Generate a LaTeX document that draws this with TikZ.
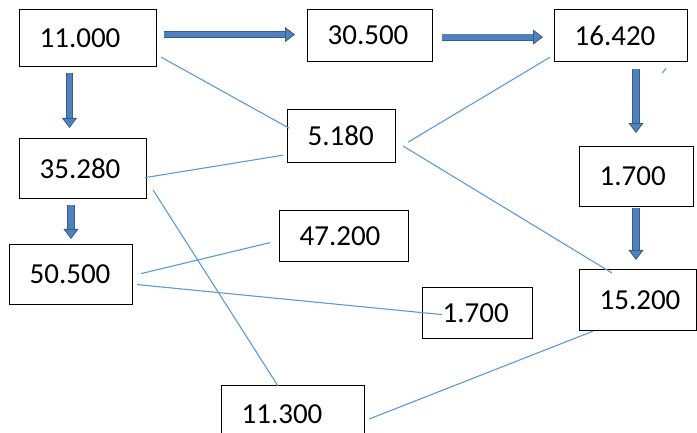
\documentclass[tikz,border=0pt]{standalone}
\usepackage{fontspec}
\setmainfont{Carlito}
\usetikzlibrary{arrows.meta,calc}
\definecolor{flowfill}{RGB}{79,129,189}
\definecolor{flowedge}{RGB}{56,93,138}
\definecolor{linkblue}{RGB}{91,155,213}
\tikzset{
  valbox/.style={draw=black, line width=1.2pt, fill=white, anchor=north west,
    inner xsep=20pt, inner ysep=0pt, align=left, font=\fontsize{29}{34}\selectfont},
  flow/.style={draw=flowedge, line width=0.8pt, double=flowfill, double distance=5.5pt,
    -{Triangle[length=10pt,width=15pt,fill=flowfill]}},
  link/.style={draw=linkblue, line width=1.1pt}
}
\begin{document}
\begin{tikzpicture}[x=1pt,y=-1pt]
  \useasboundingbox (0,0) rectangle (697,433);
  \clip (0,0) rectangle (697,433);
  % value boxes: x/y/text width/height/name/text
  \foreach \x/\y/\w/\h/\n/\t in {19/9/97/57/s11/11.000, 307/9/85/52/s30/30.500,
      554/9/93/52/s16/16.420, 287/109/68/53/s5/5.180, 19/138/87/60/s35/35.280,
      579/146/74/60/s17r/1.700, 9/244/83/60/s50/50.500, 279/210/89/51/s47/47.200,
      422/287/70/51/s17m/1.700, 579/269/77/61/s15/15.200, 221/385/103/57/s113/11.300}
    \node[valbox, text width=\w pt, minimum height=\h pt] (\n) at (\x,\y) {\t};
  % block arrows
  \draw[flow] ($(s11.east)+(7,-3.5)$) -- ($(s30.west)+(-12,-1)$);
  \draw[flow] ($(s30.east)+(9,1.5)$) -- ($(s16.west)+(-11,1.5)$);
  \draw[flow] ($(s11.south west)+(50.5,6)$) -- ($(s35.north west)+(50.5,-10)$);
  \draw[flow] ($(s35.south west)+(52,6)$) -- ($(s50.north west)+(62,-5)$);
  \draw[flow] ($(s16.south west)+(82,7)$) -- ($(s17r.north west)+(57,-13)$);
  \draw[flow] ($(s17r.south west)+(57,1)$) -- ($(s15.north west)+(57,-9)$);
  % thin links
  \draw[link] ($(s11.south east)+(4,-10)$) -- ($(s5.west)+(2,-8)$);
  \draw[link] ($(s35.east)+(-2,9)$) -- ($(s5.south west)+(-4,-8)$);
  \draw[link] ($(s5.east)+(12,6)$) -- ($(s16.south west)+(-4,-5)$);
  \draw[link] ($(s5.east)+(7,10)$) -- ($(s15.north west)+(33,4)$);
  \draw[link] ($(s35.south east)+(6,-9)$) -- ($(s113.north west)+(57,1)$);
  \draw[link] ($(s50.east)+(8,-1)$) -- ($(s47.west)+(-9,6.5)$);
  \draw[link] ($(s50.east)+(4,10)$) -- ($(s17m.west)+(20,1.5)$);
  \draw[link] ($(s15.south west)+(14,0)$) -- ($(s113.north east)+(4,34)$);
  \coordinate (tickA) at ($(s16.south east)+(-26,11)$);
  \coordinate (tickB) at ($(s16.south east)+(-22,6)$);
  \draw[link] (tickA) -- (tickB);
\end{tikzpicture}
\end{document}
